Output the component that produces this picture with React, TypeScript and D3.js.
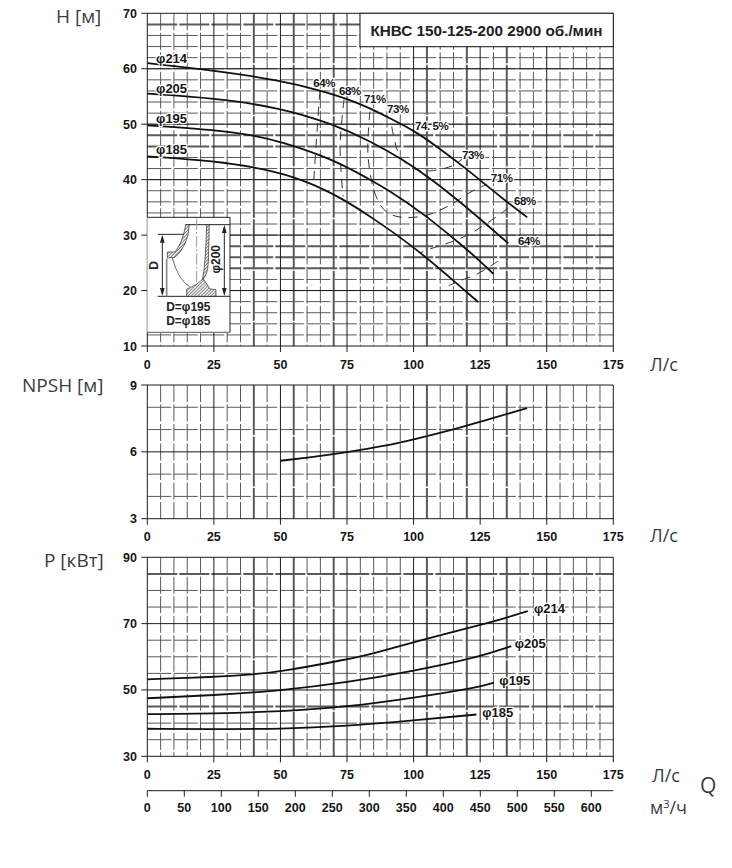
import React from "react";
import * as d3 from "d3";

const flowTicks = [0, 25, 50, 75, 100, 125, 150, 175];
const flowMinor = d3.range(5, 175, 5);
const flowThick = [40, 55, 70, 105, 120, 135];
const m3hTicks = [0, 50, 100, 150, 200, 250, 300, 350, 400, 450, 500, 550, 600];

const headTicks = [10, 20, 30, 40, 50, 60, 70];
const headMinor = d3.range(12, 70, 2);
const headThick = [68, 48, 46, 28, 26, 24];
const npshTicks = [3, 6, 9];
const npshMinor = [4, 5, 7, 8];
const powerTicks = [30, 50, 70, 90];
const powerMinor = [35, 40, 45, 55, 60, 65, 75, 80, 85];
const powerThick = [85, 45];

type Pt = [number, number];

const head214: Pt[] = [[0, 61], [25, 59.7], [50, 57.9], [64.8, 56.1], [75, 54.6], [83.6, 52.9], [91.8, 50.9], [100, 48.9], [108.7, 46], [120, 41.9], [127.5, 38.9], [135, 36], [142.7, 33.2]];
const head205: Pt[] = [[0, 55.5], [25, 54.7], [50, 53], [69.8, 50], [83.6, 47], [96, 43.6], [105, 40.7], [116.8, 36.3], [135.6, 28.5]];
const head195: Pt[] = [[0, 49.8], [25, 49], [40, 48], [50, 46.9], [69.8, 43.7], [83.6, 40], [90, 38.3], [104.3, 33.7], [119.3, 27.7], [125, 25.3], [130, 23]];
const head185: Pt[] = [[0, 44.2], [25, 43.4], [44.8, 41.9], [59.8, 39.8], [73.6, 36.5], [83.6, 33.4], [100, 28], [119.3, 20], [124.3, 17.9]];
const headCurves = [head214, head205, head195, head185];
const headLabels: [string, number, number][] = [["φ214", 3.3, 61.1], ["φ205", 3.3, 55.7], ["φ195", 3.3, 50.3], ["φ185", 3.3, 44.6]];

const eff64Left: Pt[] = [[64.8, 56], [63.5, 47], [62.4, 38.9]];
const eff68Left: Pt[] = [[73.9, 54.5], [72.4, 46], [73.5, 37]];
const eff71: Pt[] = [[83.6, 52.3], [82.9, 44.2], [85.9, 37], [90, 34.1], [96, 33.2], [105, 33.6], [113.7, 35.4], [121.2, 37.7], [127.6, 39.2]];
const eff73: Pt[] = [[91.8, 49.6], [94.9, 44.2], [100.5, 41.9], [106.5, 41.6], [114.5, 42.5], [118.2, 43.7]];
const eff68Right: Pt[] = [[135.6, 34.9], [131.4, 33.4], [123.9, 31], [119.3, 29.8], [114.9, 28.9], [107.4, 27.7], [102.4, 26.8]];
const eff64Right: Pt[] = [[131.7, 25.3], [123.9, 23], [117.7, 21.8], [113.2, 20.9]];
const effCurves = [eff64Left, eff68Left, eff71, eff73, eff68Right, eff64Right];
const effLabels: [string, number, number][] = [["64%", 62.3, 56.7], ["68%", 72, 55.2], ["71%", 81.4, 53.8], ["73%", 90, 52], ["74. 5%", 100.5, 49], ["73%", 118.2, 43.7], ["71%", 129, 39.6], ["68%", 137.7, 35.5], ["64%", 139.2, 28.3]];

const npshCurve: Pt[] = [[50, 5.6], [60, 5.74], [75, 5.98], [90, 6.28], [100, 6.55], [115, 7], [125, 7.35], [142.6, 7.96]];

const power214: Pt[] = [[0, 53.2], [25, 53.9], [40, 54.7], [50, 55.5], [75, 59.2], [85, 61], [100, 64.4], [125, 69.6], [135, 71.8], [142.9, 73.8]];
const power205: Pt[] = [[0, 47.5], [25, 48.4], [50, 49.8], [75, 52.3], [100, 55.7], [125, 60], [136.7, 63.2]];
const power195: Pt[] = [[0, 42.7], [25, 42.9], [50, 43.5], [75, 44.9], [100, 47.6], [125, 50.9], [130.1, 52.2]];
const power185: Pt[] = [[0, 38.3], [25, 38.2], [50, 38.2], [75, 39.1], [100, 40.8], [123.6, 42.6]];
const powerCurves = [power214, power205, power195, power185];
const powerLabels: [string, number, number][] = [["φ214", 145.2, 73.2], ["φ205", 138, 62.6], ["φ195", 132.2, 51.5], ["φ185", 125.8, 41.8]];

const W = 732;
const H = 868;
const sans = "'Liberation Sans', Arial, sans-serif";
const unitFont = "'Open Sans', sans-serif";
const unitColor = "#3a3a42";
const gridColor = "#5a5a5a";
const ink = "#161616";

const x = d3.scaleLinear().domain([0, 175]).range([147.3, 613.3]);
const xM3h = d3.scaleLinear().domain([0, 600]).range([147.3, 591.3]);
const yHead = d3.scaleLinear().domain([10, 70]).range([346, 13.3]);
const yNpsh = d3.scaleLinear().domain([3, 9]).range([518.7, 385]);
const yPower = d3.scaleLinear().domain([30, 90]).range([756.3, 557.3]);

function Panel({ y, ticks, minor, thick = [] }: { y: d3.ScaleLinear<number, number>; ticks: number[]; minor: number[]; thick?: number[] }) {
  const [bottom, top] = y.range();
  return (
    <g>
      {minor.filter(v => !thick.includes(v)).map(v => (
        <line key={v} x1={x(0)} x2={x(175)} y1={y(v)} y2={y(v)} stroke={gridColor} strokeWidth={1} strokeDasharray="24 2.5" />
      ))}
      {flowMinor.filter(v => !flowTicks.includes(v) && !flowThick.includes(v)).map(v => (
        <line key={v} x1={x(v)} x2={x(v)} y1={top} y2={bottom} stroke={gridColor} strokeWidth={1} strokeDasharray="17 2.5" />
      ))}
      {flowThick.map(v => (
        <line key={v} x1={x(v)} x2={x(v)} y1={top} y2={bottom} stroke={gridColor} strokeWidth={2} strokeDasharray="50 1.5" />
      ))}
      {thick.map(v => (
        <line key={v} x1={x(0)} x2={x(175)} y1={y(v)} y2={y(v)} stroke={gridColor} strokeWidth={2} strokeDasharray="30 2" />
      ))}
      {flowTicks.map(v => (
        <g key={v}>
          <line x1={x(v)} x2={x(v)} y1={top} y2={bottom + 6} stroke="#1c1c1c" strokeWidth={1} />
          <text x={x(v)} y={bottom + 22.5} textAnchor="middle" fontFamily={sans} fontWeight={700} fontSize={12.5} fill={ink}>{v}</text>
        </g>
      ))}
      {ticks.map(v => (
        <g key={v}>
          <line x1={x(0) - 6} x2={x(175)} y1={y(v)} y2={y(v)} stroke="#1c1c1c" strokeWidth={1} />
          <text x={137} y={y(v) + 4.5} textAnchor="end" fontFamily={sans} fontWeight={700} fontSize={12.5} fill={ink}>{v}</text>
        </g>
      ))}
    </g>
  );
}

function Impeller() {
  return (
    <g transform="translate(145,212) scale(0.3333)">
      <rect x={7} y={16} width={248} height={345} fill="#fff" />
      <path d="M7 16H255V361" fill="none" stroke="#222" strokeWidth={3} />
      <path d="M7 361H255" fill="none" stroke="#777" strokeWidth={4} />
      <g stroke="#222" strokeWidth={3} fill="none">
        <path d="M122 38H255M38 67H130M38 253H255" />
        <path d="M52 75V245M238 46V245" />
      </g>
      <path d="M52 68l-7 24h14zM52 252l-7-24h14zM238 39l-7 24h14zM238 252l-7-24h14z" fill="#222" />
      <path d="M65 140V253" stroke="#888" strokeWidth={5} />
      <path d="M155 20V232" stroke="#999" strokeWidth={3} strokeDasharray="34 6 6 6" />
      <path d="M122 38H133Q130 100 90 136L67 138V120H90Q114 90 122 38Z" fill="url(#hatch)" stroke="#222" strokeWidth={2} />
      <path d="M185 38H193L190 150Q188 190 172 204Q182 160 185 38Z" fill="url(#hatch)" stroke="#222" strokeWidth={2} />
      <path d="M125 232Q155 220 175 200L195 231L213 233V253H125Z" fill="url(#hatch)" stroke="#222" strokeWidth={2} />
      <path d="M82 138Q100 205 135 225" fill="none" stroke="#222" strokeWidth={2} />
      <text transform="translate(40,160) rotate(-90)" textAnchor="middle" fontFamily={sans} fontWeight={700} fontSize={36} fill="#222">D</text>
      <text transform="translate(226,142) rotate(-90)" textAnchor="middle" fontFamily={sans} fontWeight={700} fontSize={36} fill="#222">φ200</text>
      <text x={130} y={296} textAnchor="middle" fontFamily={sans} fontWeight={700} fontSize={36} fill="#222">D=φ195</text>
      <text x={130} y={338} textAnchor="middle" fontFamily={sans} fontWeight={700} fontSize={36} fill="#222">D=φ185</text>
    </g>
  );
}

function UnitText({ tx, ty, size = 17, children }: { tx: number; ty: number; size?: number; children: React.ReactNode }) {
  return <text x={tx} y={ty} fontFamily={unitFont} fontSize={size} fill={unitColor}>{children}</text>;
}

export default function App() {
  const headLine = d3.line<Pt>().x(d => x(d[0])).y(d => yHead(d[1])).curve(d3.curveBasis);
  const effLine = d3.line<Pt>().x(d => x(d[0])).y(d => yHead(d[1])).curve(d3.curveCatmullRom);
  const npshLine = d3.line<Pt>().x(d => x(d[0])).y(d => yNpsh(d[1])).curve(d3.curveBasis);
  const powerLine = d3.line<Pt>().x(d => x(d[0])).y(d => yPower(d[1])).curve(d3.curveBasis);
  const curveStyle = { fill: "none", stroke: "#111", strokeWidth: 1.8 };

  return (
    <svg width={W} height={H} viewBox={`0 0 ${W} ${H}`} style={{ position: "absolute", left: 0, top: 0, background: "#fff" }}>
      <defs>
        <pattern id="hatch" width={7} height={7} patternUnits="userSpaceOnUse" patternTransform="rotate(-45)">
          <rect width={7} height={7} fill="#fff" />
          <line x1={0} x2={7} y1={3} y2={3} stroke="#333" strokeWidth={2} />
        </pattern>
      </defs>

      <Panel y={yHead} ticks={headTicks} minor={headMinor} thick={headThick} />
      <Panel y={yNpsh} ticks={npshTicks} minor={npshMinor} />
      <Panel y={yPower} ticks={powerTicks} minor={powerMinor} thick={powerThick} />

      {/* title box */}
      <rect x={360} y={13.3} width={253.3} height={33.4} fill="#fff" stroke="#1c1c1c" strokeWidth={1} />
      <text x={370.5} y={35.5} fontFamily={sans} fontWeight={700} fontSize={15} textLength={232} lengthAdjust="spacingAndGlyphs" fill="#222">КНВС 150-125-200 2900 об./мин</text>

      <Impeller />

      {effCurves.map((c, i) => (
        <path key={i} d={effLine(c) ?? ""} fill="none" stroke="#333" strokeWidth={1} strokeDasharray="9 7" />
      ))}
      {headCurves.map((c, i) => <path key={i} d={headLine(c) ?? ""} {...curveStyle} />)}
      {headLabels.map(([t, q, v]) => (
        <text key={t} x={x(q)} y={yHead(v)} fontFamily={sans} fontWeight={700} fontSize={13} fill={ink} stroke="#fff" strokeWidth={2.5} paintOrder="stroke">{t}</text>
      ))}
      {effLabels.map(([t, q, v], i) => (
        <text key={i} x={x(q)} y={yHead(v)} fontFamily={sans} fontWeight={700} fontSize={11.5} letterSpacing={-0.4} fill={ink} stroke="#fff" strokeWidth={2.5} paintOrder="stroke">{t}</text>
      ))}

      <path d={npshLine(npshCurve) ?? ""} {...curveStyle} />

      {powerCurves.map((c, i) => <path key={i} d={powerLine(c) ?? ""} {...curveStyle} />)}
      {powerLabels.map(([t, q, v]) => (
        <text key={t} x={x(q)} y={yPower(v)} fontFamily={sans} fontWeight={700} fontSize={13} fill={ink} stroke="#fff" strokeWidth={2.5} paintOrder="stroke">{t}</text>
      ))}

      {/* m3/h axis */}
      <line x1={x(0)} x2={x(175)} y1={790.7} y2={790.7} stroke="#1c1c1c" strokeWidth={1} />
      {m3hTicks.map(v => (
        <g key={v}>
          <line x1={xM3h(v)} x2={xM3h(v)} y1={790.7} y2={796.7} stroke="#1c1c1c" strokeWidth={1} />
          <text x={xM3h(v)} y={812} textAnchor="middle" fontFamily={sans} fontWeight={700} fontSize={12.5} fill={ink}>{v}</text>
        </g>
      ))}

      <UnitText tx={56} ty={23} size={19}>H [м]</UnitText>
      <UnitText tx={22} ty={392} size={19}>NPSH [м]</UnitText>
      <UnitText tx={44} ty={567} size={19}>P [кВт]</UnitText>
      <UnitText tx={650} ty={371} size={18}>Л/с</UnitText>
      <UnitText tx={650} ty={542} size={18}>Л/с</UnitText>
      <UnitText tx={652} ty={782} size={18}>Л/с</UnitText>
      <UnitText tx={700} ty={793} size={21}>Q</UnitText>
      <UnitText tx={650} ty={814} size={18}>м<tspan dy={-6} fontSize={11}>3</tspan><tspan dy={6}>/ч</tspan></UnitText>
    </svg>
  );
}
